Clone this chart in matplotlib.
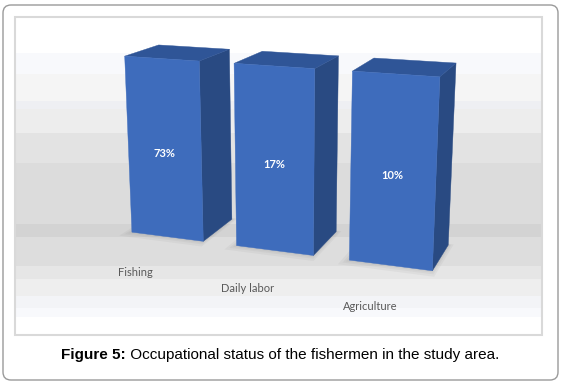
import numpy as np
import matplotlib
matplotlib.use("Agg")
import matplotlib.pyplot as plt
from matplotlib.patches import FancyBboxPatch, Rectangle
from mpl_toolkits.mplot3d.art3d import Poly3DCollection

# data
categories = ["Fishing", "Daily labor", "Agriculture"]
shares = [73, 17, 10]            # percentages printed on the columns
bar_heights = [1.0, 1.0, 1.0]    # the three columns are drawn at the same height

W, H = 562, 383
fig = plt.figure(figsize=(W / 100, H / 100), dpi=100)

# background layer in pixel coords
bg = fig.add_axes([0, 0, 1, 1])
bg.set_xlim(0, W)
bg.set_ylim(H, 0)
bg.axis("off")

bg.add_patch(FancyBboxPatch((3, 5), 555, 375, boxstyle="round,pad=0,rounding_size=8",
                            fc="white", ec="#9a9a9a", lw=1))

# soft grey wall/floor bands of the plot area
bands = [(53, 74, "#f8f9fc"), (74, 101, "#f5f5f5"), (101, 109, "#eeeff3"),
         (109, 133, "#ededed"), (133, 163, "#e3e3e3"), (163, 224, "#dcdcdc"),
         (224, 237, "#d3d3d3"), (237, 266, "#dddddd"), (266, 279, "#e6e6e6"),
         (279, 296, "#eeeeee"), (296, 308, "#f3f4f7"), (308, 317, "#f8f9fc")]
for y0, y1, c in bands:
    bg.add_patch(Rectangle((15, y0), 526, y1 - y0, fc=c, ec="none"))
bg.add_patch(Rectangle((15, 17), 527, 318, fc="none", ec="#d9d9d9", lw=1.5))

# caption: bold lead-in followed by plain text
t1 = bg.text(61, 355, "Figure 5:", fontsize=11, fontweight="bold",
             family="Liberation Sans", ha="left", va="center")
bg.annotate(" Occupational status of the fishermen in the study area.", xy=(1, 0.5),
            xycoords=t1, fontsize=11, family="Liberation Sans", ha="left", va="center")

# 3D columns
ax = fig.add_axes([0.002, 0.092, 1, 1], projection="3d", computed_zorder=False)
ax.set_proj_type("persp", focal_length=0.5)
ax.view_init(elev=15, azim=-70)
ax.patch.set_alpha(0)
ax.set_axis_off()
for a in (ax.xaxis, ax.yaxis, ax.zaxis):
    a.label.set_visible(False)
    a.offsetText.set_visible(False)

n = len(categories)
xs = np.arange(n) * 1.0
dx, dy = 0.69, 0.63

# soft floor shadow under each column
for k, grow in enumerate([0.10, 0.06, 0.03]):
    polys = []
    for x in xs:
        x0, x1 = x - grow * 0.6, x + dx + grow * 0.4
        y0, y1 = -grow * 1.2, dy + grow * 0.3
        polys.append([(x0, y0, 0), (x1, y0, 0), (x1, y1, 0), (x0, y1, 0)])
    ax.add_collection3d(Poly3DCollection(polys, facecolor="#6f6f6f", alpha=0.07,
                                         edgecolor="none", zorder=1 + k))

# face order in bar3d: bottom, top, front, back, left, right
hidden = (0, 0, 0, 0)
face_cols = [hidden, "#2f5597", "#3e6cbc", hidden, hidden, "#294a82"] * n
ax.bar3d(xs, np.zeros(n), np.zeros(n), dx, dy, bar_heights, color=face_cols,
         shade=False, edgecolor=face_cols, linewidth=0.3, zorder=5)

ax.set_xlim(0, xs[-1] + dx)
ax.set_ylim(0, dy)
ax.set_zlim(0, 1)
ax.set_box_aspect((xs[-1] + dx, dy, 1.57), zoom=0.95)

for x, h, s, c in zip(xs, bar_heights, shares, categories):
    ax.text(x + dx / 2, 0, h * 0.48, f"{s}%", color="white", fontsize=8,
            fontweight="bold", family="Lato", ha="center", va="center", zorder=10)
    ax.text(x + dx / 2, -0.6, -0.07, c, color="#595959", fontsize=8,
            family="Lato", ha="center", va="center", zorder=10)

fig.savefig("out.png", dpi=100)
